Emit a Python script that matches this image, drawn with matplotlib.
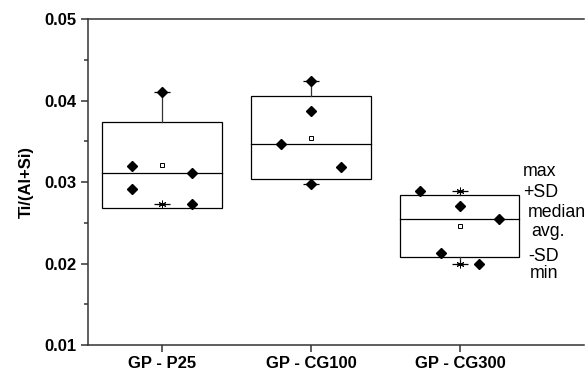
import numpy as np
import matplotlib
matplotlib.use("Agg")
import matplotlib.pyplot as plt

plt.rcParams["font.family"] = ["Liberation Sans", "DejaVu Sans"]

groups = ["GP - P25", "GP - CG100", "GP - CG300"]
p25 = [0.0410, 0.0320, 0.0292, 0.0311, 0.0273]
cg100 = [0.0424, 0.0387, 0.0347, 0.0318, 0.0297]
cg300 = [0.0289, 0.0271, 0.0255, 0.0213, 0.0200]
# horizontal jitter of the single points
p25_off = [0, -0.2, -0.2, 0.2, 0.2]
cg100_off = [0, 0, -0.2, 0.2, 0]
cg300_off = [-0.27, 0, 0.26, -0.13, 0.13]

data = [p25, cg100, cg300]
offs = [p25_off, cg100_off, cg300_off]

fig = plt.figure(figsize=(5.85, 3.74), dpi=100)
ax = fig.add_axes([0.1504, 0.0775, 0.8476, 0.8717])

w = 0.8
for i, (vals, off) in enumerate(zip(data, offs)):
    x = i + 1
    v = np.array(vals)
    m = v.mean()
    sd = v.std(ddof=1)
    med = np.median(v)
    lo, hi = m - sd, m + sd
    # box mean +- SD
    ax.add_patch(plt.Rectangle((x - w / 2, lo), w, hi - lo, fill=False,
                               edgecolor="black", linewidth=0.9, zorder=2))
    ax.plot([x - w / 2, x + w / 2], [med, med], color="black", lw=0.9, zorder=2)
    # whiskers to min/max
    if v.max() > hi:
        ax.plot([x, x], [hi, v.max()], color="#333333", lw=0.9, zorder=2)
    if v.min() < lo:
        ax.plot([x, x], [lo, v.min()], color="#333333", lw=0.9, zorder=2)
    # min / max markers
    for e in (v.min(), v.max()):
        ax.plot(x, e, marker="_", ms=11, mew=0.9, color="black", zorder=3)
        ax.plot(x, e, marker=(6, 2, 0), ms=5.5, mew=0.7, color="black", zorder=3)
    # average
    ax.plot(x, m, marker="s", ms=3, mfc="white", mec="black", mew=0.7, zorder=4)
    # points
    ax.plot(x + np.array(off), v, "D", ms=5.2, color="black", zorder=5)

ax.set_xlim(0.503, 3.832)
ax.set_ylim(0.01, 0.05)
ax.set_xticks([1, 2, 3])
ax.set_xticklabels(groups, fontsize=12, fontweight="bold")
ax.set_yticks([0.01, 0.02, 0.03, 0.04, 0.05])
ax.set_yticklabels(["0.01", "0.02", "0.03", "0.04", "0.05"], fontsize=12, fontweight="bold")
ax.set_yticks(np.arange(0.015, 0.05, 0.01), minor=True)
ax.set_ylabel("Ti/(Al+Si)", fontsize=12, fontweight="bold", labelpad=8)

ax.spines["right"].set_visible(False)
for s in ("left", "top", "bottom"):
    ax.spines[s].set_linewidth(1.1)
    ax.spines[s].set_color("#333333")
ax.tick_params(axis="both", which="major", length=5, width=1.1, color="#333333", pad=3)
ax.tick_params(axis="y", which="minor", length=3, width=1.1, color="#333333")

labels = ["max", "+SD", "median", "avg.", "-SD", "min"]
lab_x = [3.423, 3.423, 3.457, 3.477, 3.457, 3.47]
lab_y = [0.0313, 0.0287, 0.0262, 0.0239, 0.0208, 0.0188]
for t, tx, ty in zip(labels, lab_x, lab_y):
    ax.text(tx, ty, t, fontsize=12.8, ha="left", va="center")

fig.savefig("out.png", dpi=100)
